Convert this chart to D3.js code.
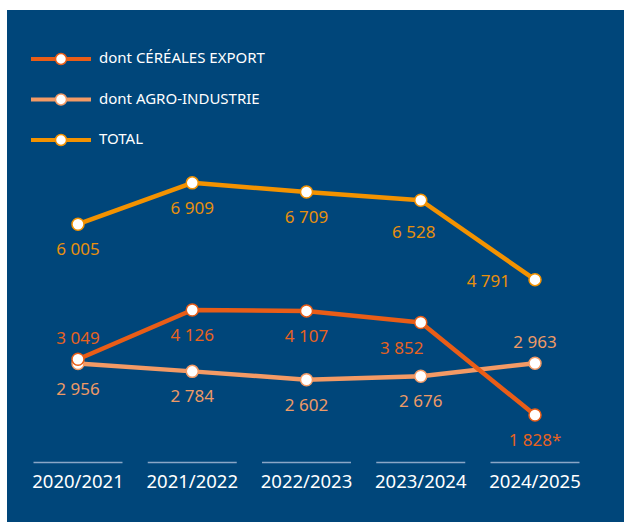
<!DOCTYPE html>
<html>
<head>
<meta charset="utf-8">
<script src="https://cdn.jsdelivr.net/npm/d3@7"></script>
<style>
  html, body { margin: 0; padding: 0; background: #fff; }
  svg { display: block; font-family: "Noto Sans", sans-serif; }
</style>
</head>
<body>
<div id="chart"></div>
<script>
  // data
  const seasons = ['2020/2021', '2021/2022', '2022/2023', '2023/2024', '2024/2025'];
  const cerealesExport = [3049, 4126, 4107, 3852, 1828];
  const agroIndustrie = [2956, 2784, 2602, 2676, 2963];
  const total = [6005, 6909, 6709, 6528, 4791];
  const valueLabels = {
    cereales: ['3 049', '4 126', '4 107', '3 852', '1 828*'],
    agro: ['2 956', '2 784', '2 602', '2 676', '2 963'],
    total: ['6 005', '6 909', '6 709', '6 528', '4 791']
  };

  const width = 624, height = 522;
  const bg = '#00467a';

  const series = [
    { key: 'cereales', name: 'dont CÉRÉALES EXPORT', values: cerealesExport, color: '#e95d17', labelColor: '#e8621e',
      place: ['above', 'below', 'below', 'belowLeft', 'below'] },
    { key: 'agro', name: 'dont AGRO-INDUSTRIE', values: agroIndustrie, color: '#f39a65', labelColor: '#ee9a66',
      place: ['below', 'below', 'below', 'below', 'above'] },
    { key: 'total', name: 'TOTAL', values: total, color: '#f39200', labelColor: '#e8900c',
      place: ['below', 'below', 'below', 'belowLow', 'left'] }
  ];

  const svg = d3.select('#chart').append('svg')
    .attr('width', width)
    .attr('height', height);

  svg.append('rect')
    .attr('x', 7).attr('y', 10)
    .attr('width', width - 7).attr('height', height - 10)
    .attr('fill', bg);

  const x = d3.scalePoint()
    .domain(seasons)
    .range([78, 535]);

  const y = d3.scaleLinear()
    .domain([0, 7000])
    .range([498.6, 178.7]);

  // axis: short separators with category labels below
  const axisG = svg.append('g');
  const band = 89;
  seasons.forEach(s => {
    axisG.append('line')
      .attr('x1', x(s) - band / 2).attr('x2', x(s) + band / 2)
      .attr('y1', 462.5).attr('y2', 462.5)
      .attr('stroke', '#8aa6c6')
      .attr('stroke-width', 1.5);
    axisG.append('text')
      .attr('x', x(s))
      .attr('y', 488)
      .attr('text-anchor', 'middle')
      .attr('fill', '#fff')
      .attr('font-size', 18.5)
      .text(s);
  });

  const line = d3.line()
    .x((d, i) => x(seasons[i]))
    .y(d => y(d));

  // draw total first, then agro, then cereales on top
  const order = [series[2], series[1], series[0]];
  order.forEach(s => {
    svg.append('path')
      .datum(s.values)
      .attr('fill', 'none')
      .attr('stroke', s.color)
      .attr('stroke-width', 4.5)
      .attr('stroke-linejoin', 'round')
      .attr('d', line);
  });
  order.forEach(s => {
    svg.append('g').selectAll('circle')
      .data(s.values)
      .join('circle')
      .attr('cx', (d, i) => x(seasons[i]))
      .attr('cy', d => y(d))
      .attr('r', 6)
      .attr('fill', '#fff')
      .attr('stroke', s.color)
      .attr('stroke-width', 1.5);
  });

  // value labels
  series.forEach(s => {
    svg.append('g').selectAll('text')
      .data(s.values)
      .join('text')
      .attr('x', (d, i) => {
        const p = s.place[i];
        if (p === 'left') return x(seasons[i]) - 25;
        if (p === 'belowLeft') return x(seasons[i]) - 19;
        if (p === 'belowLow') return x(seasons[i]) - 7;
        return x(seasons[i]);
      })
      .attr('y', (d, i) => {
        const p = s.place[i];
        if (p === 'above') return y(d) - 15;
        if (p === 'left') return y(d) + 7;
        if (p === 'belowLow') return y(d) + 38;
        return y(d) + 31;
      })
      .attr('text-anchor', (d, i) => s.place[i] === 'left' ? 'end' : 'middle')
      .attr('fill', s.labelColor)
      .attr('font-size', 17)
      .text((d, i) => valueLabels[s.key][i]);
  });

  // legend
  const legend = svg.append('g');
  series.forEach((s, i) => {
    const ly = 59 + i * 40.5;
    legend.append('line')
      .attr('x1', 31).attr('x2', 91)
      .attr('y1', ly).attr('y2', ly)
      .attr('stroke', s.color)
      .attr('stroke-width', 4);
    legend.append('circle')
      .attr('cx', 61).attr('cy', ly)
      .attr('r', 5.5)
      .attr('fill', '#fff')
      .attr('stroke', s.color)
      .attr('stroke-width', 1.5);
    legend.append('text')
      .attr('x', 99).attr('y', ly + 4)
      .attr('fill', '#fff')
      .attr('font-size', 15)
      .text(s.name);
  });
</script>
</body>
</html>
